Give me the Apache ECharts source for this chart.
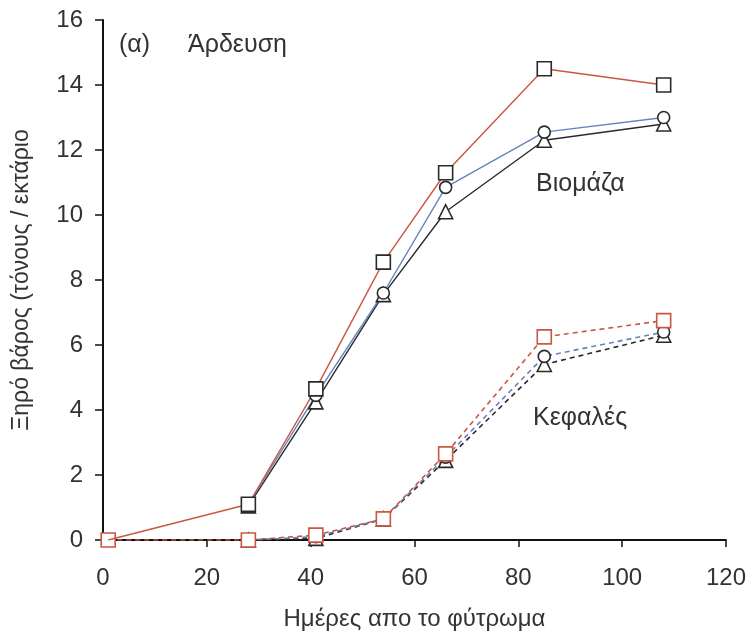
<!DOCTYPE html>
<html>
<head>
<meta charset="utf-8">
<script src="https://cdn.jsdelivr.net/npm/echarts@6/dist/echarts.min.js"></script>
<style>
  html, body { margin: 0; padding: 0; background: #fff; }
  #main { width: 749px; height: 641px; }
</style>
</head>
<body>
<div id="main"></div>
<script>
// ημέρες από το φύτρωμα
var days = [1, 28, 41, 54, 66, 85, 108];

// Βιομάζα (συνεχείς γραμμές)
var bioSquare   = [0, 1.1, 4.65, 8.55, 11.3, 14.5, 14.0];
var bioCircle   = [null, 1.1, 4.45, 7.6, 10.85, 12.55, 13.0];
var bioTriangle = [null, 1.05, 4.25, 7.55, 10.1, 12.3, 12.8];

// Κεφαλές (διακεκομμένες γραμμές)
var headSquare   = [0, 0, 0.15, 0.65, 2.65, 6.25, 6.75];
var headCircle   = [null, 0, 0.1, 0.65, 2.55, 5.65, 6.4];
var headTriangle = [null, 0, 0.05, 0.65, 2.45, 5.4, 6.3];

var xTicks = [0, 20, 40, 60, 80, 100, 120];
var yTicks = [0, 2, 4, 6, 8, 10, 12, 14, 16];

var RED = '#cb5644', BLUE = '#6485bb', DARK = '#2a2a2a';
var FONT = 'Liberation Sans, Arial, sans-serif';

function pairs(vals) {
    var out = [];
    for (var i = 0; i < days.length; i++) {
        if (vals[i] !== null) out.push([days[i], vals[i]]);
    }
    return out;
}

function makeLine(name, vals, color, symbol, markerColor, dashed, size) {
    return {
        name: name,
        type: 'line',
        data: pairs(vals),
        symbol: symbol,
        symbolSize: size,
        showSymbol: true,
        lineStyle: { color: color, width: dashed ? 1.6 : 1.4, type: dashed ? [5, 4] : 'solid' },
        itemStyle: { color: '#fff', borderColor: markerColor, borderWidth: 1.6 },
        z: dashed ? 2 : 3,
        animation: false
    };
}

var series = [
    makeLine('Κεφαλές τρίγωνο', headTriangle, DARK, 'triangle', DARK, true, 14),
    makeLine('Κεφαλές κύκλος', headCircle, BLUE, 'circle', DARK, true, 12),
    makeLine('Κεφαλές τετράγωνο', headSquare, RED, 'rect', RED, true, 14),
    makeLine('Βιομάζα τρίγωνο', bioTriangle, DARK, 'triangle', DARK, false, 14),
    makeLine('Βιομάζα κύκλος', bioCircle, BLUE, 'circle', DARK, false, 12),
    makeLine('Βιομάζα τετράγωνο', bioSquare, RED, 'rect', DARK, false, 14)
];
// το πρώτο σημείο της κόκκινης συνεχούς γραμμής δεν έχει σύμβολο
series[5].data[0] = { value: series[5].data[0], symbol: 'none' };

var myChart = echarts.init(document.getElementById('main'));
myChart.setOption({
    backgroundColor: '#fff',
    grid: { left: 103, right: 22, top: 20, bottom: 101 },
    xAxis: {
        type: 'value',
        min: xTicks[0],
        max: xTicks[xTicks.length - 1],
        interval: 20,
        name: 'Ημέρες απο το φύτρωμα',
        nameLocation: 'middle',
        nameGap: 67,
        nameTextStyle: { fontFamily: FONT, fontSize: 24, color: '#333' },
        axisLine: { lineStyle: { color: '#111', width: 2 } },
        axisTick: { show: true, length: 7, inside: false, lineStyle: { color: '#111', width: 1.5 } },
        axisLabel: { fontFamily: FONT, fontSize: 24, color: '#333', margin: 26 },
        splitLine: { show: false }
    },
    yAxis: {
        type: 'value',
        min: yTicks[0],
        max: yTicks[yTicks.length - 1],
        interval: 2,
        name: 'Ξηρό βάρος (τόνους / εκτάριο',
        nameLocation: 'middle',
        nameGap: 70,
        nameTextStyle: { fontFamily: FONT, fontSize: 23, color: '#333' },
        axisLine: { show: true, lineStyle: { color: '#111', width: 2 } },
        axisTick: { show: true, length: 8, lineStyle: { color: '#111', width: 1.5 } },
        axisLabel: { fontFamily: FONT, fontSize: 24, color: '#333', margin: 20 },
        splitLine: { show: false }
    },
    graphic: [
        { type: 'text', left: 119, top: 33, style: { text: '(α)', font: '25px ' + FONT, fill: '#333' } },
        { type: 'text', left: 188, top: 33, style: { text: 'Άρδευση', font: '25px ' + FONT, fill: '#333' } },
        { type: 'text', left: 536, top: 172, style: { text: 'Βιομάζα', font: '25px ' + FONT, fill: '#333' } },
        { type: 'text', left: 533, top: 406, style: { text: 'Κεφαλές', font: '25px ' + FONT, fill: '#333' } }
    ],
    series: series
});
</script>
</body>
</html>
